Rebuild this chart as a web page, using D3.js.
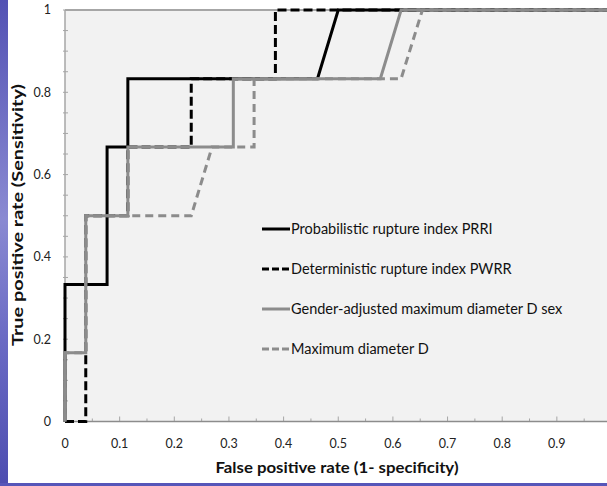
<!DOCTYPE html>
<html>
<head>
<meta charset="utf-8">
<script src="https://cdn.jsdelivr.net/npm/d3@7"></script>
<style>
  body { margin: 0; background: #fff; }
  svg { display: block; }
</style>
</head>
<body>
<div id="chart"></div>
<script>
// ROC curves, false positive rate vs true positive rate
var seriesNames = ["Probabilistic rupture index PRRI", "Deterministic rupture index PWRR",
                   "Gender-adjusted maximum diameter D sex", "Maximum diameter D"];

var prriFpr = [0, 0, 0.077, 0.077, 0.115, 0.115, 0.462, 0.5, 1];
var prriTpr = [0, 0.333, 0.333, 0.667, 0.667, 0.833, 0.833, 1, 1];

var pwrrFpr = [0, 0.038, 0.038, 0.115, 0.115, 0.231, 0.231, 0.385, 0.385, 1];
var pwrrTpr = [0, 0, 0.5, 0.5, 0.667, 0.667, 0.833, 0.833, 1, 1];

var dsexFpr = [0, 0, 0.038, 0.038, 0.115, 0.115, 0.308, 0.308, 0.577, 0.615, 1];
var dsexTpr = [0, 0.167, 0.167, 0.5, 0.5, 0.667, 0.667, 0.833, 0.833, 1, 1];

var dFpr = [0, 0, 0.038, 0.038, 0.231, 0.269, 0.346, 0.346, 0.615, 0.654, 1];
var dTpr = [0, 0.167, 0.167, 0.5, 0.5, 0.667, 0.667, 0.833, 0.833, 1, 1];

var xTicks = [0, 0.1, 0.2, 0.3, 0.4, 0.5, 0.6, 0.7, 0.8, 0.9];
var yTicks = [0, 0.2, 0.4, 0.6, 0.8, 1];

var W = 607, H = 486;
var margin = {top: 10, left: 65},
    width = 546.5,
    height = 411.5;

var svg = d3.select("#chart").append("svg")
    .attr("width", W)
    .attr("height", H);

// blue slide strips
var defs = svg.append("defs");
var grad = defs.append("linearGradient").attr("id", "strip")
    .attr("x1", 0).attr("y1", 0).attr("x2", 0).attr("y2", 1);
grad.append("stop").attr("offset", "0%").attr("stop-color", "#5352b4");
grad.append("stop").attr("offset", "45%").attr("stop-color", "#8a8ad2");
grad.append("stop").attr("offset", "70%").attr("stop-color", "#6a6ac4");
grad.append("stop").attr("offset", "100%").attr("stop-color", "#4d4db0");
svg.append("rect").attr("x", 0).attr("y", 0).attr("width", 8).attr("height", H)
    .attr("fill", "url(#strip)");
svg.append("rect").attr("x", 0).attr("y", 483).attr("width", W).attr("height", 3)
    .attr("fill", "#5656b9");

var g = svg.append("g")
    .attr("transform", "translate(" + margin.left + "," + margin.top + ")");

var x = d3.scaleLinear().domain([0, 1]).range([0, width]);
var y = d3.scaleLinear().domain([0, 1]).range([height, 0]);

g.append("rect")
    .attr("width", width).attr("height", height)
    .attr("fill", "#f2f2f2");

// top border
g.append("line").attr("x1", 0).attr("x2", width).attr("y1", 0).attr("y2", 0)
    .attr("stroke", "#a6a6a6").attr("stroke-width", 2);

// y axis with minor ticks
var yMinor = d3.range(0, 1.001, 0.05);
g.append("g").selectAll("line").data(yMinor).enter().append("line")
    .attr("x1", -2).attr("x2", 3)
    .attr("y1", function (d) { return y(d); })
    .attr("y2", function (d) { return y(d); })
    .attr("stroke", "#a6a6a6").attr("stroke-width", 1);
g.append("line").attr("x1", 0).attr("x2", 0).attr("y1", 0).attr("y2", height)
    .attr("stroke", "#a6a6a6").attr("stroke-width", 1.5);
g.append("g").selectAll("text").data(yTicks).enter().append("text")
    .attr("x", -14)
    .attr("y", function (d) { return y(d); })
    .attr("dy", "0.35em")
    .attr("text-anchor", "end")
    .style("font-family", "Lato, 'Open Sans', sans-serif")
    .style("font-size", "12.5px")
    .attr("fill", "#222")
    .text(function (d) { return d === 0 || d === 1 ? d : d3.format(".1f")(d); });

// x axis with minor ticks
var xMinor = d3.range(0, 1.001, 0.05);
g.append("g").selectAll("line").data(xMinor).enter().append("line")
    .attr("x1", function (d) { return x(d); })
    .attr("x2", function (d) { return x(d); })
    .attr("y1", height)
    .attr("y2", function (d, i) { return height - (i % 2 === 0 ? 5 : 3); })
    .attr("stroke", "#a6a6a6").attr("stroke-width", 1);
g.append("line").attr("x1", 0).attr("x2", width).attr("y1", height).attr("y2", height)
    .attr("stroke", "#8c8c8c").attr("stroke-width", 1.5);
g.append("g").selectAll("text").data(xTicks).enter().append("text")
    .attr("x", function (d) { return x(d); })
    .attr("y", height + 26)
    .attr("text-anchor", "middle")
    .style("font-family", "Lato, 'Open Sans', sans-serif")
    .style("font-size", "12.5px")
    .attr("fill", "#222")
    .text(function (d) { return d === 0 ? "0" : d3.format(".1f")(d); });

// axis titles
svg.append("text")
    .attr("x", 337).attr("y", 473)
    .attr("text-anchor", "middle")
    .attr("textLength", 243).attr("lengthAdjust", "spacingAndGlyphs")
    .style("font-family", "Lato, 'Open Sans', sans-serif")
    .style("font-size", "15px").style("font-weight", "bold")
    .attr("fill", "#111")
    .text("False positive rate (1- specificity)");
svg.append("text")
    .attr("transform", "translate(23,215) rotate(-90)")
    .attr("text-anchor", "middle")
    .attr("textLength", 262).attr("lengthAdjust", "spacingAndGlyphs")
    .style("font-family", "Lato, 'Open Sans', sans-serif")
    .style("font-size", "15px").style("font-weight", "bold")
    .attr("fill", "#111")
    .text("True positive rate (Sensitivity)");

// series
var series = [
  {name: seriesNames[0], fpr: prriFpr, tpr: prriTpr, color: "#000", dash: null},
  {name: seriesNames[1], fpr: pwrrFpr, tpr: pwrrTpr, color: "#000", dash: "9,4"},
  {name: seriesNames[2], fpr: dsexFpr, tpr: dsexTpr, color: "#8c8c8c", dash: null},
  {name: seriesNames[3], fpr: dFpr, tpr: dTpr, color: "#8c8c8c", dash: "8,5"}
];

var line = d3.line()
    .x(function (d) { return x(d[0]); })
    .y(function (d) { return y(d[1]); });

series.forEach(function (s) {
  var pts = s.fpr.map(function (f, i) { return [f, s.tpr[i]]; });
  g.append("path")
      .attr("d", line(pts))
      .attr("fill", "none")
      .attr("stroke", s.color)
      .attr("stroke-width", 3)
      .attr("stroke-dasharray", s.dash);
});

// legend
var leg = svg.append("g").attr("transform", "translate(262,229)");
series.forEach(function (s, i) {
  var row = leg.append("g").attr("transform", "translate(0," + (i * 40) + ")");
  row.append("line")
      .attr("x1", 0).attr("x2", 28)
      .attr("stroke", s.color)
      .attr("stroke-width", 3)
      .attr("stroke-dasharray", s.dash ? "7,3" : null);
  row.append("text")
      .attr("x", 29).attr("y", 5)
      .style("font-family", "Lato, 'Open Sans', sans-serif")
      .style("font-size", "14.5px")
      .attr("fill", "#111")
      .text(s.name);
});
</script>
</body>
</html>
